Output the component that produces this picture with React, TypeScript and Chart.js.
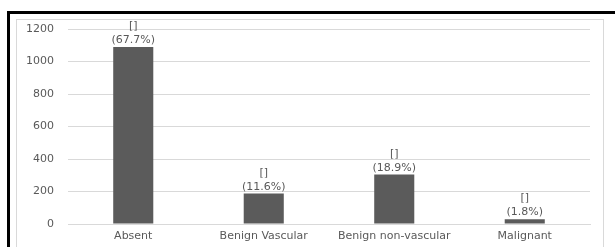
import React, { useEffect, useRef } from "react";
import { Chart, registerables } from "chart.js";

Chart.register(...registerables);

const categories = ["Absent", "Benign Vascular", "Benign non-vascular", "Malignant"];
const counts = [1089, 187, 304, 29];
const percentLabels = ["(67.7%)", "(11.6%)", "(18.9%)", "(1.8%)"];
const topLabels = ["[]", "[]", "[]", "[]"];
const yTicks = [0, 200, 400, 600, 800, 1000, 1200];

const FONT = "'DejaVu Sans', Verdana, sans-serif";

const dataLabelPlugin = {
  id: "dataLabels",
  afterDatasetsDraw(chart: any) {
    const ctx = chart.ctx;
    const meta = chart.getDatasetMeta(0);
    ctx.save();
    ctx.font = `11px ${FONT}`;
    ctx.fillStyle = "#595959";
    ctx.textAlign = "center";
    ctx.textBaseline = "alphabetic";
    meta.data.forEach((bar: any, i: number) => {
      const x = bar.x;
      const y = bar.y;
      ctx.fillText(percentLabels[i], x, y - 4);
      ctx.fillText(topLabels[i], x, y - 18);
    });
    ctx.restore();
  },
};

export default function App() {
  const ref = useRef<HTMLCanvasElement>(null);
  useEffect(() => {
    if (!ref.current) return;
    const chart = new Chart(ref.current, {
      type: "bar",
      data: {
        labels: categories,
        datasets: [
          {
            data: counts,
            backgroundColor: "#5b5b5b",
            borderWidth: 0,
            barPercentage: 0.307,
            categoryPercentage: 1,
          },
        ],
      },
      options: {
        animation: false,
        responsive: false,
        maintainAspectRatio: false,
        layout: { padding: { top: 10, right: 13, left: 0, bottom: 0 } },
        plugins: { legend: { display: false }, tooltip: { enabled: false } },
        scales: {
          x: {
            grid: { display: false, drawTicks: false },
            border: { display: true, color: "#d9d9d9", width: 1 },
            ticks: { color: "#595959", font: { family: FONT, size: 11 }, padding: 6, maxRotation: 0, autoSkip: false },
            afterFit(scale: any) {
              scale.height = 23;
              scale.paddingLeft = 0;
              scale.paddingRight = 0;
            },
          },
          y: {
            min: 0,
            max: 1200,
            afterBuildTicks(scale: any) {
              scale.ticks = yTicks.map((v) => ({ value: v }));
            },
            grid: { color: "#d9d9d9", drawTicks: false, lineWidth: 1 },
            border: { display: false },
            ticks: {
              color: "#595959",
              font: { family: FONT, size: 11 },
              padding: 14,
              callback: (v: any) => String(v),
            },
            afterFit(scale: any) {
              scale.width = 52;
              scale.paddingTop = 0;
              scale.paddingBottom = 0;
            },
          },
        },
      },
      plugins: [dataLabelPlugin],
    });
    return () => chart.destroy();
  }, []);

  return (
    <div style={{ position: "fixed", left: 0, top: 0, width: 615, height: 247, overflow: "hidden", background: "#fff" }}>
      <div
        style={{
          position: "absolute",
          left: 7,
          top: 11,
          width: 700,
          height: 400,
          borderLeft: "3px solid #000",
          borderTop: "3px solid #000",
        }}
      />
      <div
        style={{
          position: "absolute",
          left: 16,
          top: 19,
          width: 586,
          height: 400,
          border: "1px solid #d9d9d9",
        }}
      />
      <canvas ref={ref} width={587} height={228} style={{ position: "absolute", left: 16, top: 19, width: 587, height: 228 }} />
    </div>
  );
}
